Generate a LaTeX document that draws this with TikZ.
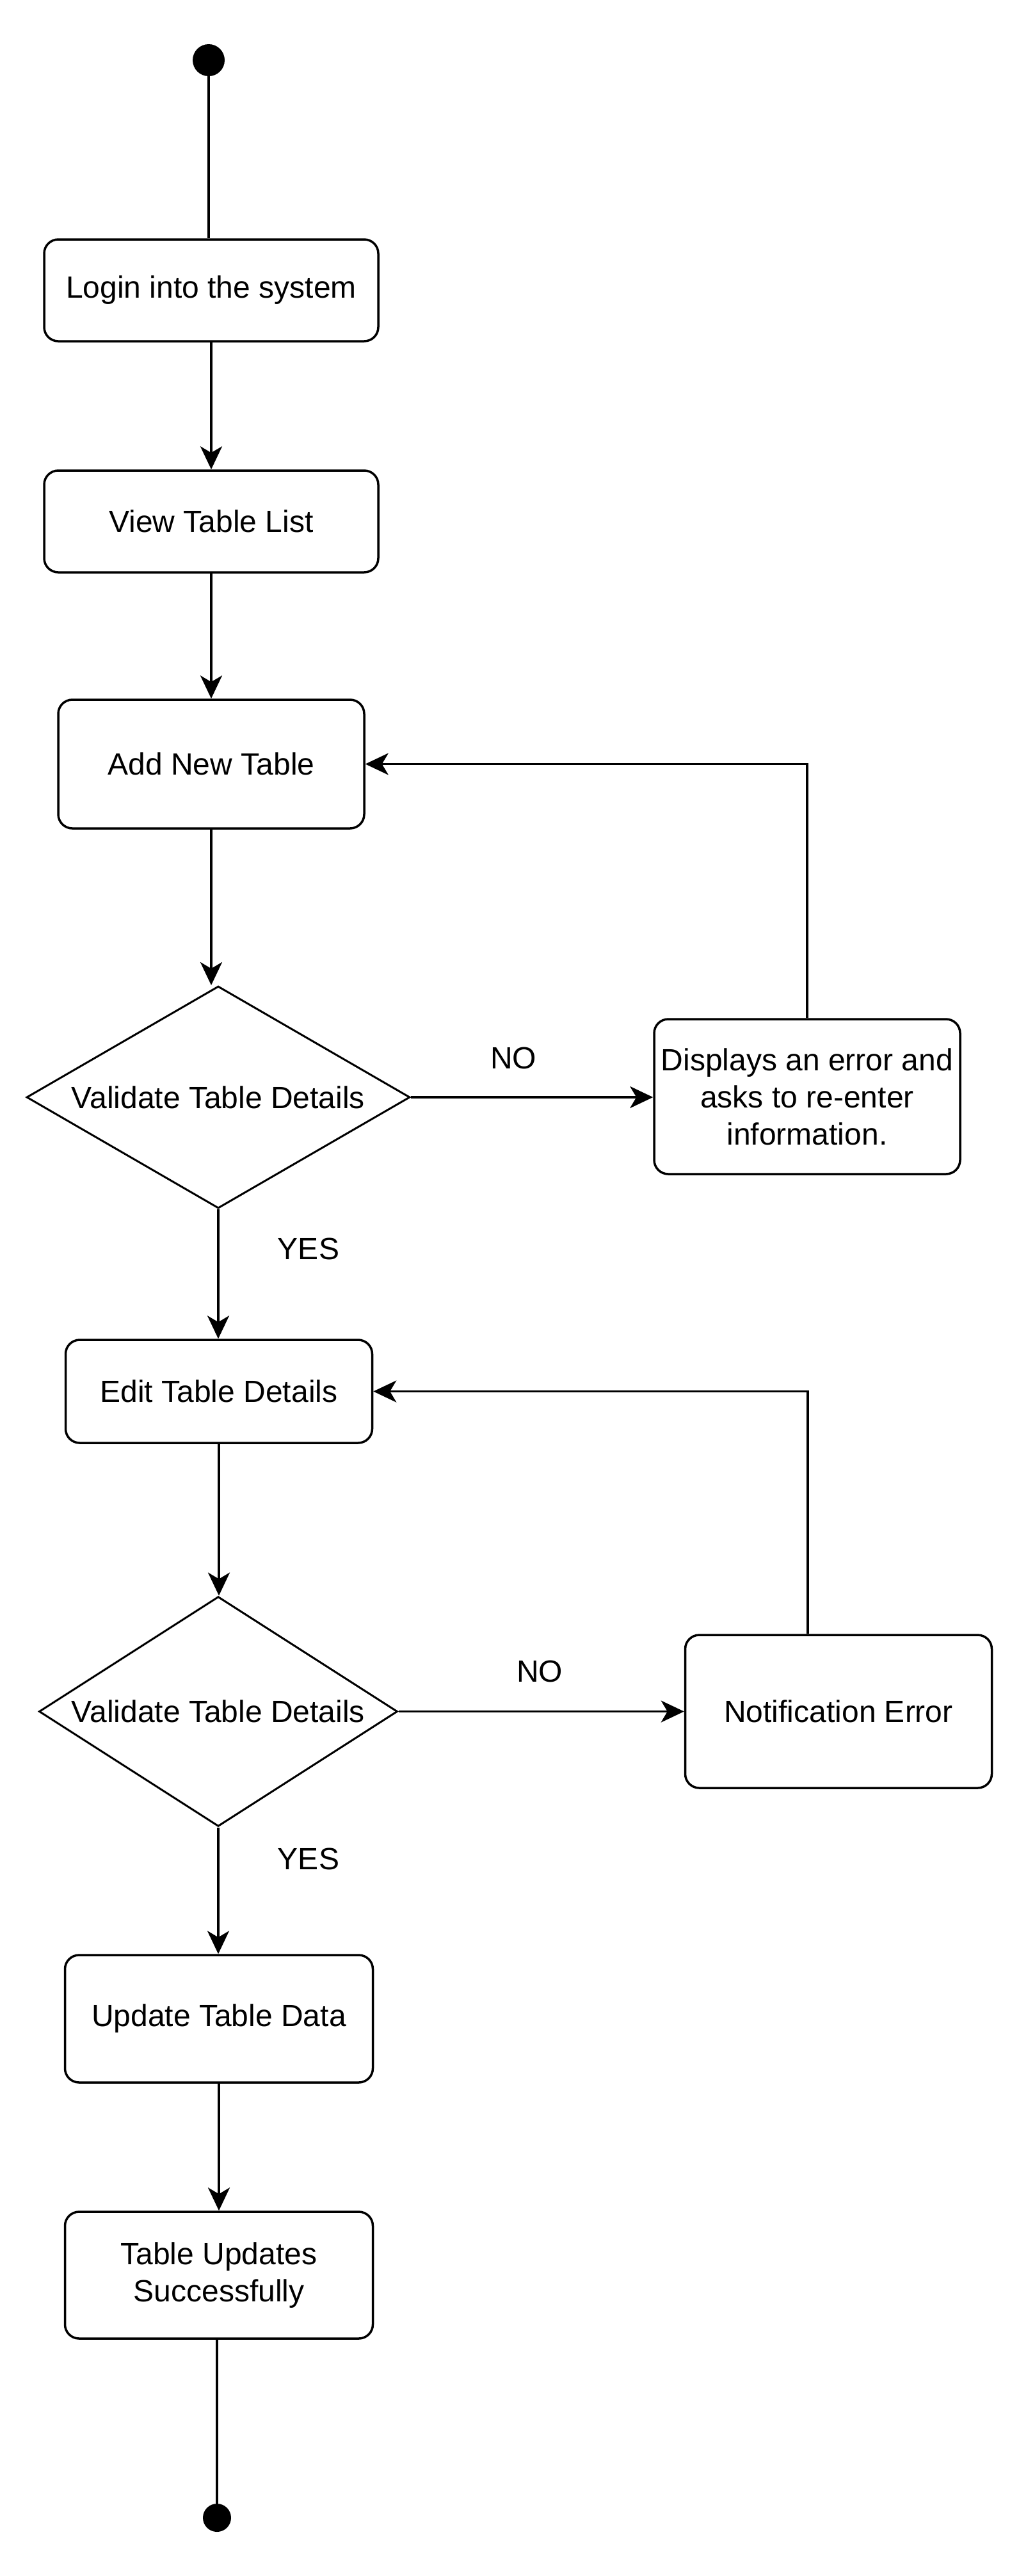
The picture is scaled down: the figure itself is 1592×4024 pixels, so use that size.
\documentclass[tikz,border=0pt]{standalone}
\usepackage{fontspec}
\setmainfont{Liberation Sans}
\usetikzlibrary{shapes.geometric,arrows.meta,calc}
\begin{document}
\begin{tikzpicture}[x=1pt,y=-1pt,
  every node/.style={font=\fontsize{48}{58}\selectfont},
  box/.style={draw, line width=3.5pt, rounded corners=22pt, inner sep=0pt, align=center},
  dec/.style={draw, diamond, line width=3pt, inner sep=0pt, align=center},
  dot/.style={circle, fill=black, inner sep=0pt},
  plain/.style={line width=3.5pt},
  arr/.style={line width=3.5pt, -{Stealth[length=36pt,width=34pt,inset=10pt]}},
  lbl/.style={inner sep=0pt}]
\useasboundingbox (0,0) rectangle (1592,4024);
\node[dot, minimum size=50pt] (start) at (326,94) {};
\node[box, minimum width=522pt, minimum height=159pt] (login) at (330,453.5) {Login into the system};
\node[box, minimum width=522pt, minimum height=159pt] (view) at (330,814.5) {View Table List};
\node[box, minimum width=478pt, minimum height=201pt] (add) at (330,1193.5) {Add New Table};
\node[dec, shape aspect=1.73, minimum width=599pt, minimum height=347pt] (d1) at (341,1714) {Validate Table Details};
\node[box, minimum width=478pt, minimum height=242pt] (err) at (1261,1713) {Displays an error and\\asks to re-enter\\information.};
\node[lbl] (no1) at (802,1653) {NO};
\node[lbl] (yes1) at (482,1951) {YES};
\node[box, minimum width=479pt, minimum height=161pt] (edit) at (342,2173.5) {Edit Table Details};
\node[dec, shape aspect=1.56, minimum width=560pt, minimum height=359pt] (d2) at (341,2673.5) {Validate Table Details};
\node[box, minimum width=479pt, minimum height=239pt] (notif) at (1310,2673.5) {Notification Error};
\node[lbl] (no2) at (843,2611) {NO};
\node[lbl] (yes2) at (482,2904) {YES};
\node[box, minimum width=481pt, minimum height=199pt] (upd) at (342,3153.5) {Update Table Data};
\node[box, minimum width=481pt, minimum height=198pt] (tus) at (342,3554) {Table Updates\\Successfully};
\node[dot, minimum size=44pt] (end) at (339,3933) {};

\draw[plain] (start) -- (start |- login.north);
\draw[arr] (login.south) -- (view.north);
\draw[arr] (view.south) -- (add.north);
\draw[arr] (add.south) -- (add.south |- d1.north);
\draw[arr] (d1.east) -- (d1.east -| err.west);
\draw[arr] (err.north) |- (add.east);
\draw[arr] (d1.south) -- (d1.south |- edit.north);
\draw[arr] (edit.south) -- (edit.south |- d2.north);
\draw[arr] (d2.east) -- (notif.west);
\coordinate (nl) at ($(notif.north west)!0.4!(notif.north east)$);
\draw[arr] (nl) |- (edit.east);
\draw[arr] (d2.south) -- (d2.south |- upd.north);
\draw[arr] (upd.south) -- (tus.north);
\draw[plain] (end |- tus.south) -- (end);
\end{tikzpicture}
\end{document}
